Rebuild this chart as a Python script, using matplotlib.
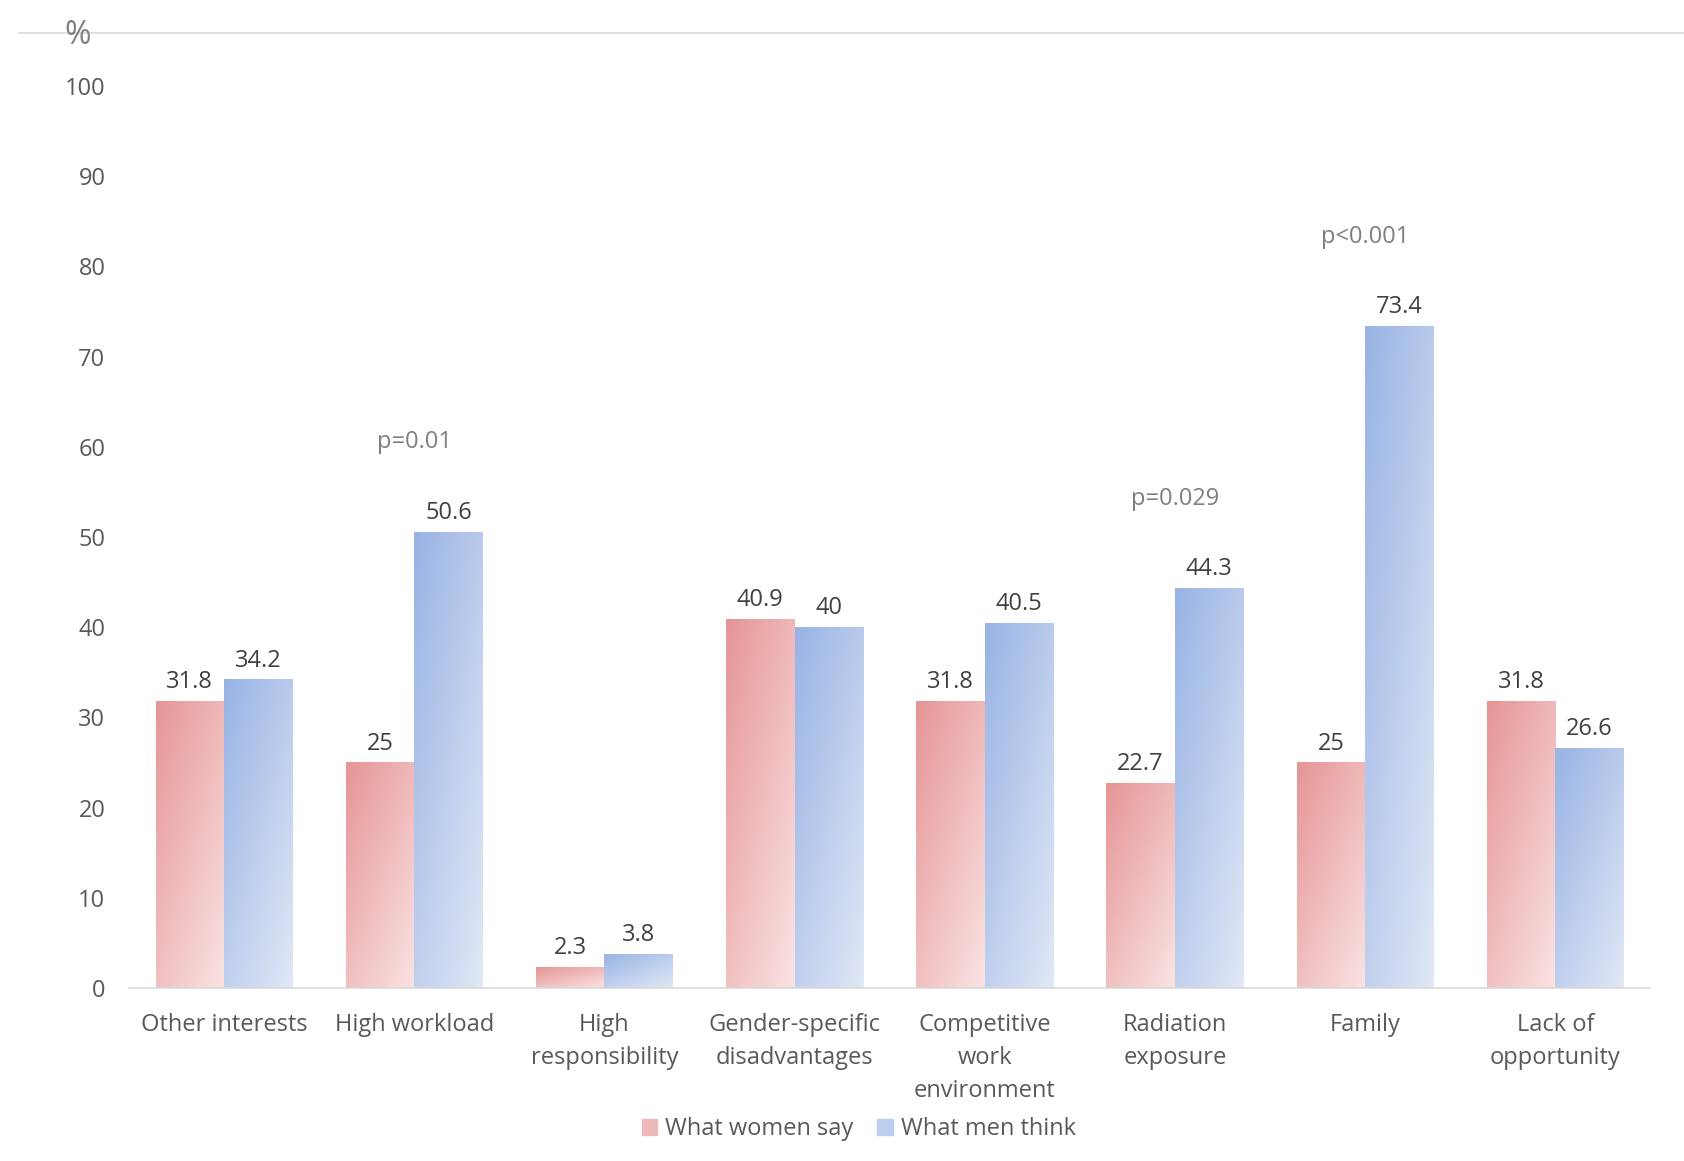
import numpy as np
import matplotlib.pyplot as plt
from matplotlib.colors import LinearSegmentedColormap
from matplotlib.patches import Rectangle
from matplotlib.lines import Line2D

plt.rcParams['font.family'] = ['Open Sans', 'DejaVu Sans']

# --- data ---
categories = ['Other interests', 'High workload', 'High\nresponsibility',
              'Gender-specific\ndisadvantages', 'Competitive\nwork\nenvironment',
              'Radiation\nexposure', 'Family', 'Lack of\nopportunity']
women_say = [31.8, 25, 2.3, 40.9, 31.8, 22.7, 25, 31.8]
men_think = [34.2, 50.6, 3.8, 40, 40.5, 44.3, 73.4, 26.6]
p_values = {1: 'p=0.01', 5: 'p=0.029', 6: 'p<0.001'}

red_cmap = LinearSegmentedColormap.from_list('r', ['#E69596', '#FAE3E3'])
blue_cmap = LinearSegmentedColormap.from_list('b', ['#98B3E4', '#E1E8F6'])

fig = plt.figure(figsize=(16.84, 11.61), dpi=100)
ax = fig.add_axes([0.0766, 0.149, 0.9034, 0.777])

x = np.arange(len(categories))
w = 0.36

# diagonal gradient texture: dark at top-left, light at bottom-right
gx, gy = np.meshgrid(np.linspace(0, 1, 60), np.linspace(0, 1, 200))
grad = 0.45 * gx + 0.55 * gy


def gradient_bars(xs, heights, cmap):
    bars = ax.bar(xs, heights, width=w, color='none', edgecolor='none')
    for b in bars:
        x0, y0 = b.get_x(), b.get_y()
        x1, y1 = x0 + b.get_width(), y0 + b.get_height()
        im = ax.imshow(grad, cmap=cmap, extent=[x0, x1, y0, y1], aspect='auto',
                       origin='upper', interpolation='bilinear', zorder=2)
        im.set_clip_path(Rectangle((x0, y0), x1 - x0, y1 - y0,
                                   transform=ax.transData))
    return bars


b1 = gradient_bars(x - w / 2, women_say, red_cmap)
b2 = gradient_bars(x + w / 2, men_think, blue_cmap)

for bars, vals in ((b1, women_say), (b2, men_think)):
    for b, v in zip(bars, vals):
        ax.annotate(f'{v:g}', (b.get_x() + b.get_width() / 2, v),
                    xytext=(0, 5), textcoords='offset points',
                    ha='center', va='bottom', fontsize=17, color='#404040')

for i, txt in p_values.items():
    top = max(women_say[i], men_think[i])
    ax.text(x[i], top + 9.9, txt, ha='center', va='center',
            fontsize=17, color='#7F7F7F')

ax.set_xlim(-0.5, len(categories) - 0.5)
ax.set_ylim(0, 100)
ax.set_yticks(range(0, 101, 10))
ax.set_xticks(x)
ax.set_xticklabels(categories, fontsize=17, color='#595959', linespacing=1.5)
ax.tick_params(axis='y', labelsize=17, labelcolor='#595959', length=0, pad=17)
ax.tick_params(axis='x', length=0, pad=18)
for s in ('top', 'right', 'left'):
    ax.spines[s].set_visible(False)
ax.spines['bottom'].set_color('#D9D9D9')
ax.spines['bottom'].set_linewidth(1.2)

# thin line across the top and the unit label
fig.add_artist(Line2D([0.011, 1.0], [0.9716, 0.9716], color='#D9D9D9', lw=1.2))
fig.text(0.046, 0.969, '%', fontsize=23, color='#7F7F7F', ha='center', va='center')

handles = [Rectangle((0, 0), 1, 1, color='#EFB9B9'),
           Rectangle((0, 0), 1, 1, color='#BCCDEE')]
fig.legend(handles, ['What women say', 'What men think'], loc='center',
           bbox_to_anchor=(0.51, 0.0275), ncol=2, frameon=False, fontsize=17,
           handlelength=0.65, handleheight=0.65, handletextpad=0.35,
           columnspacing=1.0, labelcolor='#595959')

fig.savefig('out.png', dpi=100)
